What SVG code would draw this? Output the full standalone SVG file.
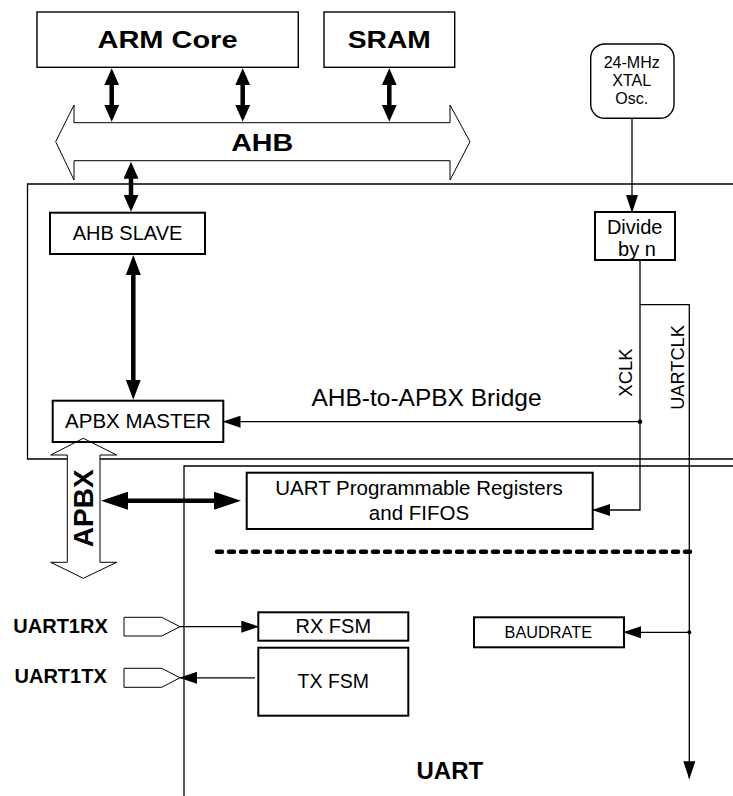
<svg xmlns="http://www.w3.org/2000/svg" width="733" height="796" viewBox="0 0 733 796">
<style>
text{font-family:"Liberation Sans",Arial,sans-serif;fill:#000}
.b{font-weight:bold}
.box{fill:#fff;stroke:#000;stroke-width:2}
.tbox{fill:#fff;stroke:#000;stroke-width:1.4}
.ln{fill:none;stroke:#000;stroke-width:1.3}
.thick{fill:none;stroke:#000;stroke-width:4.5}
.bus{fill:#fff;stroke:#000;stroke-width:1}
.c{text-anchor:middle}
</style>
<defs>
<marker id="ah" markerUnits="userSpaceOnUse" markerWidth="18" markerHeight="12" refX="17" refY="6" orient="auto"><path d="M0,0 L18,6 L0,12 z" fill="#000"/></marker>
<marker id="dh" markerUnits="userSpaceOnUse" markerWidth="18" markerHeight="15" refX="1" refY="7.5" orient="auto-start-reverse"><path d="M0,0 L17,7.5 L0,15 z" fill="#000"/></marker>
<marker id="dh2" markerUnits="userSpaceOnUse" markerWidth="21" markerHeight="15" refX="1" refY="7.5" orient="auto-start-reverse"><path d="M0,0 L20,7.5 L0,15 z" fill="#000"/></marker>
<marker id="dh3" markerUnits="userSpaceOnUse" markerWidth="28" markerHeight="18" refX="1" refY="9" orient="auto-start-reverse"><path d="M0,0 L27,9 L0,18 z" fill="#000"/></marker>
</defs>

<g id="bridge">
<path class="ln" d="M733,184 H27.5 V459 H733"/>
<text x="426.5" y="406" class="c" font-size="24.5">AHB-to-APBX Bridge</text>
</g>
<g id="uart">
<path class="ln" d="M733,466 H184 V796"/>
<text x="416.5" y="779" class="b" font-size="24">UART</text>
</g>

<g id="ahb-bus">
<path class="bus" d="M55.7,141.7 L74,105 V122.7 H450 V105 L470,141.7 L450,180 V160.7 H74 V180 Z"/>
<text x="262.2" y="150.7" class="b c" font-size="24" textLength="62" lengthAdjust="spacingAndGlyphs">AHB</text>
</g>
<g id="apbx-bus">
<path class="bus" d="M83.3,438.3 L116.7,455 H100 V562.3 H116.7 L83.3,578.3 L50.7,562.3 H67.3 V455 H50.7 Z"/>
<text transform="translate(93.3,508.3) rotate(-90)" class="b c" font-size="28">APBX</text>
</g>

<g id="arm-core">
<rect x="37" y="12" width="261.3" height="55.3" class="tbox"/>
<text x="167.5" y="48.3" class="b c" font-size="24" textLength="140" lengthAdjust="spacingAndGlyphs">ARM Core</text>
</g>
<g id="sram">
<rect x="324" y="12" width="130.7" height="55.3" class="tbox"/>
<text x="389.3" y="48.3" class="b c" font-size="24" textLength="83" lengthAdjust="spacingAndGlyphs">SRAM</text>
</g>
<g id="osc">
<rect x="590.7" y="44" width="83.3" height="74.3" rx="14" class="tbox" stroke-width="1"/>
<text x="631.7" y="67.7" class="c" font-size="16">24-MHz</text>
<text x="631.7" y="85.5" class="c" font-size="16">XTAL</text>
<text x="631.7" y="104" class="c" font-size="16">Osc.</text>
</g>
<g id="divide">
<rect x="595" y="212" width="80" height="48" class="box"/>
<text x="634.7" y="234" class="c" font-size="20">Divide</text>
<text x="637" y="256" class="c" font-size="20">by n</text>
</g>
<g id="ahb-slave">
<rect x="50" y="212.7" width="155" height="41.3" class="box"/>
<text x="127.5" y="240" class="c" font-size="20">AHB SLAVE</text>
</g>
<g id="apbx-master">
<rect x="52.7" y="400.7" width="170.6" height="41.3" fill="none" stroke="#000" stroke-width="2"/>
<text x="138" y="428.3" class="c" font-size="20.5">APBX MASTER</text>
</g>
<g id="uart-regs">
<rect x="246.7" y="472.7" width="346" height="56.3" class="box"/>
<text x="419" y="495" class="c" font-size="20.5">UART Programmable Registers</text>
<text x="419" y="520" class="c" font-size="20.5">and FIFOS</text>
</g>
<g id="rx-fsm">
<rect x="258.3" y="612.3" width="150" height="28.4" class="box"/>
<text x="333.3" y="633.3" class="c" font-size="20">RX FSM</text>
</g>
<g id="tx-fsm">
<rect x="258.3" y="647.7" width="150" height="68" class="box"/>
<text x="333.3" y="688.3" class="c" font-size="19.5">TX FSM</text>
</g>
<g id="baudrate">
<rect x="474" y="617.3" width="150" height="30" class="box"/>
<text x="548.3" y="638.3" class="c" font-size="16.3">BAUDRATE</text>
</g>
<g id="uart1rx">
<path class="bus" d="M124,617.3 H161.7 L180,626.7 L161.7,636 H124 Z"/>
<text x="13.3" y="633.3" class="b" font-size="20">UART1RX</text>
</g>
<g id="uart1tx">
<path class="bus" d="M124,668.3 H161.7 L180,677.8 L161.7,687.3 H124 Z"/>
<text x="14.5" y="683" class="b" font-size="20">UART1TX</text>
</g>

<g id="connectors">
<line class="thick" x1="111.7" y1="84.3" x2="111.7" y2="105.7" marker-start="url(#dh)" marker-end="url(#dh)"/>
<line class="thick" x1="242.7" y1="84.3" x2="242.7" y2="105.7" marker-start="url(#dh)" marker-end="url(#dh)"/>
<line class="thick" x1="389.3" y1="84.3" x2="389.3" y2="105.7" marker-start="url(#dh)" marker-end="url(#dh)"/>
<line class="thick" x1="131" y1="177.7" x2="131" y2="195.7" marker-start="url(#dh)" marker-end="url(#dh)"/>
<line class="thick" x1="133.3" y1="274" x2="133.3" y2="380.7" marker-start="url(#dh2)" marker-end="url(#dh2)"/>
<line class="thick" x1="127" y1="500.7" x2="215" y2="500.7" marker-start="url(#dh3)" marker-end="url(#dh3)"/>
<line class="ln" x1="632" y1="118.3" x2="632" y2="212" marker-end="url(#ah)"/>
<path class="ln" d="M640,260 V510 H593" marker-end="url(#ah)"/>
<line class="ln" x1="640" y1="421.7" x2="223.5" y2="421.7" marker-end="url(#ah)"/>
<circle cx="640" cy="421.7" r="2.3" fill="#000"/>
<path class="ln" d="M640,304.7 H689.3 V778.3" marker-end="url(#ah)"/>
<line class="ln" x1="689.3" y1="632.3" x2="624" y2="632.3" marker-end="url(#ah)"/>
<circle cx="689.3" cy="632.3" r="2" fill="#000"/>
<line x1="217" y1="551.7" x2="693" y2="551.7" stroke="#000" stroke-width="4.5" stroke-dasharray="5 7" stroke-linecap="round"/>
<line class="ln" x1="180" y1="626.7" x2="258.3" y2="626.7" marker-end="url(#ah)"/>
<line class="ln" x1="255" y1="677.8" x2="180" y2="677.8" marker-end="url(#ah)"/>
<text transform="translate(631.7,372.5) rotate(-90)" class="c" font-size="18.5">XCLK</text>
<text transform="translate(684,367.5) rotate(-90)" class="c" font-size="18.2">UARTCLK</text>
</g>
</svg>
